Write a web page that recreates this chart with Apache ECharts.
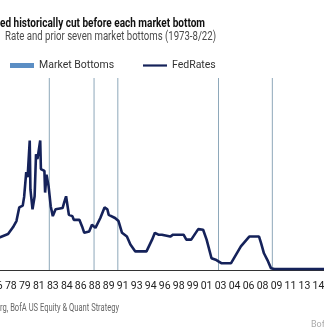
<!DOCTYPE html>
<html><head><meta charset="utf-8">
<script src="https://cdn.jsdelivr.net/npm/echarts@6/dist/echarts.min.js"></script>
<style>html,body{margin:0;padding:0;background:#fff;overflow:hidden;width:324px;height:332px;position:relative}
#c{position:absolute;left:-40px;top:0;width:434px;height:332px}</style>
</head><body><div id="c"></div>
<script>
// Fed funds rate readings (month, %)
var rateMonths = ['1973-01','1973-08','1974-07','1975-03','1976-01','1977-02','1977-09','1978-04','1978-09','1979-01','1979-06','1979-08','1979-11','1980-01','1980-04','1980-05','1980-08','1980-11','1981-01','1981-03','1981-07','1981-08','1981-10','1982-01','1982-02','1982-04','1982-07','1982-10','1983-01','1983-05','1984-03','1984-05','1984-08','1984-10','1984-12','1985-05','1985-07','1986-03','1986-07','1986-10','1987-05','1987-09','1988-02','1988-09','1989-03','1989-07','1989-09','1990-06','1990-11','1991-04','1991-11','1992-04','1992-11','1994-03','1994-11','1995-03','1995-08','1996-01','1997-01','1997-05','1998-08','1998-12','1999-07','2000-05','2000-12','2001-05','2001-12','2002-07','2003-02','2004-04','2005-06','2006-06','2007-08','2007-11','2008-03','2008-08','2009-01','2009-06','2015-11','2016-06','2017-12','2018-12','2019-07','2019-12','2020-04','2022-02','2022-08'];
var rateValues = [5.9,10.5,12.9,5.5,4.9,5.5,5.8,6.9,7.9,10.1,10.4,11.8,15.8,15.0,20.9,13.0,9.8,11.9,18.7,17.9,20.9,16.3,16.0,16.0,12.5,15.4,13.5,10.3,8.7,9.8,10.0,10.8,11.9,11.9,8.9,8.7,8.1,8.1,7.0,6.0,6.2,7.3,6.8,8.4,10.1,9.8,8.9,8.4,7.9,6.0,5.4,4.1,3.0,3.0,4.9,6.0,5.7,5.7,5.4,5.7,5.7,4.9,4.9,6.6,6.5,4.9,1.9,1.6,1.1,1.1,3.8,5.4,5.4,4.3,2.7,1.6,0.3,0.15,0.15,0.4,1.3,2.3,2.4,1.6,0.1,0.1,2.3];
// Market bottoms
var bottomMonths = ['1974-10','1982-08','1987-12','1990-10','2002-10','2009-03','2020-03'];
var bottomValues = [1,1,1,1,1,1,1];
var startYear = 1973, endMonth = '2022-08';
var titleText = 'ed historically cut before each market bottom';
var subtitleText = 'Rate and prior seven market bottoms (1973-8/22)';
var sourceText = 'rg, BofA US Equity & Quant Strategy';
var brandText = 'BofA GLOBAL RESEARCH';

function idx(s){var p=s.split('-');return (parseInt(p[0],10)-startYear)*12+parseInt(p[1],10)-1;}
var rateData = rateMonths.map(function(m,i){return [idx(m), rateValues[i]];});
var bottomData = bottomMonths.map(function(m,i){return [idx(m), bottomValues[i]];});

var FONT = 'Roboto';
var OFF = 40; // div offset
var mctx = document.createElement('canvas').getContext('2d');
function measure(txt, font){mctx.font = font; return mctx.measureText(txt).width;}
function fitText(txt, x, y, targetW, size, weight, color){
  var font = weight + ' ' + size + 'px ' + FONT;
  var w = measure(txt, font);
  var s = targetW ? targetW / w : 1;
  return {type:'text', x:x+OFF, y:y, scaleX:s, scaleY:1,
    style:{text:txt, x:0, y:0, font:font, fill:color, textVerticalAlign:'middle', textAlign:'left'}};
}
var legendFont = 10.5;
var mbW = measure('Market Bottoms', 'normal ' + legendFont + 'px ' + FONT);
var legendLeft = 10 + OFF;
var gap = (143 + OFF) - (legendLeft + 24 + 5 + mbW);

var chart = echarts.init(document.getElementById('c'));
chart.setOption({
  animation:false,
  backgroundColor:'#fff',
  graphic:[
    fitText(titleText, 0, 23.5, 205, 12, 'bold', '#111'),
    fitText(subtitleText, 5, 36.5, 211, 12, 'normal', '#4a4a4a'),
    fitText(sourceText, 0, 308, 119, 10, 'normal', '#666'),
    fitText(brandText, 311, 324.5, 0, 9, 'normal', '#aaa')
  ],
  legend:{left:legendLeft, top:60, padding:0, itemGap:gap, itemWidth:24, itemHeight:5,
    textStyle:{fontFamily:FONT, fontSize:legendFont, color:'#333'},
    data:[{name:'Market Bottoms', icon:'rect', itemStyle:{color:'#5b8ec4'}},
          {name:'FedRates', icon:'path://M0,0L24,0L24,2.2L0,2.2Z', itemStyle:{color:'#15225a'}}]},
  grid:{left:5.7, right:9.1, top:78, bottom:62, containLabel:false},
  xAxis:{type:'value', min:0, max:idx(endMonth), interval:20,
    axisLine:{show:true, lineStyle:{color:'#333', width:1}},
    axisTick:{show:false}, splitLine:{show:false},
    axisLabel:{margin:11, fontFamily:FONT, fontSize:10.5, color:'#222',
      formatter:function(v){var y=(startYear+Math.floor(v/12))%100;return (y<10?'0':'')+y;}}},
  yAxis:[{type:'value', min:0, max:31, show:false, splitLine:{show:false}},
         {type:'value', min:0, max:1, show:false, splitLine:{show:false}}],
  series:[
    {name:'Market Bottoms', type:'bar', yAxisIndex:1, data:bottomData, barWidth:1,
     itemStyle:{color:'#8ea8ba'}, z:1},
    {name:'FedRates', type:'line', data:rateData, symbol:'none',
     lineStyle:{color:'#15225a', width:2.6}, itemStyle:{color:'#15225a'}, z:3}
  ]
});
</script></body></html>
